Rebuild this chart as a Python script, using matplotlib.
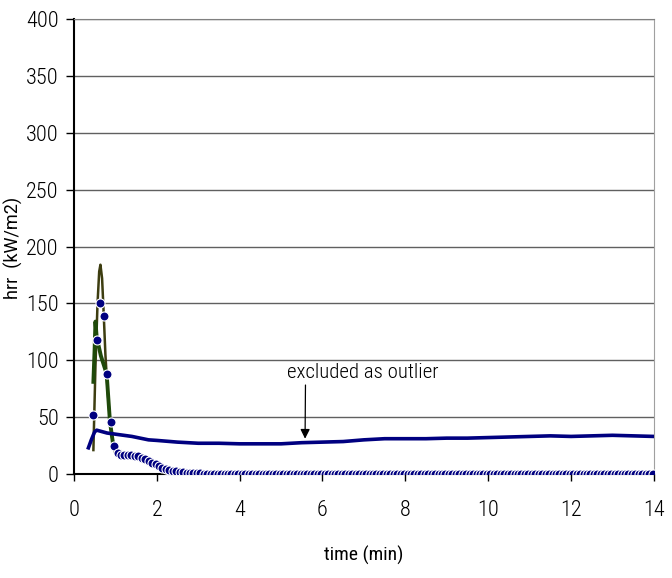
import numpy as np
import matplotlib
matplotlib.use('Agg')
import matplotlib.pyplot as plt

plt.rcParams['font.family'] = ['Roboto Condensed', 'Open Sans Condensed',
                               'DejaVu Sans Condensed', 'Roboto']
plt.rcParams['font.weight'] = 'light'

# thick navy line (excluded outlier)
t_outlier = [0.35, 0.42, 0.50, 0.55, 0.60, 0.70, 0.80, 1.0, 1.2, 1.4, 1.6, 1.8,
             2.0, 2.5, 3.0, 3.5, 4.0, 4.5, 5.0, 5.5, 6.0, 6.5, 7.0, 7.5, 8.0,
             8.5, 9.0, 9.5, 10.0, 10.5, 11.0, 11.5, 12.0, 12.5, 13.0, 13.5, 14.0]
hrr_outlier = [23, 30, 37, 38.5, 38, 37, 36, 35, 34, 33, 31.5, 30,
               29.5, 28, 27, 27, 26.5, 26.5, 26.5, 27.5, 28, 28.5, 30, 31, 31,
               31, 31.5, 31.5, 32, 32.5, 33, 33.5, 33, 33.5, 34, 33.5, 33]

# dark green thick line
t_green = [0.47, 0.50, 0.52, 0.55, 0.60, 0.65, 0.72, 0.79, 0.87, 0.95, 1.05, 1.15]
hrr_green = [81, 110, 134, 120, 112, 104, 96, 88, 46, 25, 18, 15]

# olive thin line (tall peak)
t_olive = [0.47, 0.52, 0.57, 0.61, 0.64, 0.68, 0.72, 0.76, 0.81, 0.87, 0.95, 1.0]
hrr_olive = [21, 95, 150, 178, 184, 172, 140, 105, 75, 47, 24, 18]

# navy marker series, one scan every 5 s starting at 0.47 min
t_start = 0.47
t_step = 5 / 60
hrr_markers = [52, 118, 150, 139, 88, 46, 25, 18, 17, 17, 16.5, 16.5, 16, 15.5,
               14, 13, 11.5, 10, 8.5, 7, 5.5, 4.5, 3.5, 3, 2.5, 2, 1.5, 1.2, 1,
               0.8, 0.6, 0.5, 0.4, 0.3, 0.2,
               0, 0, 0, 0, 0, 0, 0, 0, 0, 0, 0, 0, 0, 0, 0, 0, 0, 0, 0, 0,
               0, 0, 0, 0, 0, 0, 0, 0, 0, 0, 0, 0, 0, 0, 0, 0, 0, 0, 0, 0,
               0, 0, 0, 0, 0, 0, 0, 0, 0, 0, 0, 0, 0, 0, 0, 0, 0, 0, 0, 0,
               0, 0, 0, 0, 0, 0, 0, 0, 0, 0, 0, 0, 0, 0, 0, 0, 0, 0, 0, 0,
               0, 0, 0, 0, 0, 0, 0, 0, 0, 0, 0, 0, 0, 0, 0, 0, 0, 0, 0, 0,
               0, 0, 0, 0, 0, 0, 0, 0, 0, 0, 0, 0, 0, 0, 0, 0, 0, 0, 0, 0,
               0, 0, 0, 0, 0, 0, 0, 0]
t_markers = t_start + t_step * np.arange(len(hrr_markers))

x_ticks = [0, 2, 4, 6, 8, 10, 12, 14]
y_ticks = [0, 50, 100, 150, 200, 250, 300, 350, 400]

fig = plt.figure(figsize=(6.72, 5.78), dpi=100)
ax = fig.add_axes([0.110, 0.180, 0.863, 0.787])

# gridlines
for y in y_ticks[1:]:
    ax.axhline(y, color='#606060', linewidth=1.0, zorder=0)

keep = t_markers <= 14.01
ax.plot(t_outlier, hrr_outlier, color='#000080', linewidth=2.6, zorder=3)
ax.plot(t_olive, hrr_olive, color='#3d3d10', linewidth=1.8, zorder=2)
ax.plot(t_green, hrr_green, color='#1f4a0a', linewidth=2.8, zorder=2)
ax.plot(t_markers[keep], np.array(hrr_markers)[keep],
        linestyle='none', marker='o', markersize=6.5, color='#000080',
        markeredgecolor='white', markeredgewidth=0.8, zorder=4)

ax.annotate('excluded as outlier', xy=(5.58, 31), xytext=(6.98, 89),
            ha='center', va='center', fontsize=15, color='black',
            arrowprops=dict(arrowstyle='-|>', color='black', lw=0.9,
                            shrinkA=0, shrinkB=0, mutation_scale=14,
                            relpos=(0.12, 0.0)))

ax.set_xlim(0, 14)
ax.set_ylim(0, 400)
ax.set_xticks(x_ticks)
ax.set_yticks(y_ticks)
ax.tick_params(axis='y', direction='out', length=6, width=1, pad=5, labelsize=16)
ax.tick_params(axis='x', direction='out', length=5, width=1, pad=14, labelsize=16)

ax.spines['left'].set_linewidth(1.5)
ax.spines['bottom'].set_linewidth(1.5)
ax.spines['right'].set_color('#a0a0a0')
ax.spines['top'].set_color('#808080')

ax.set_xlabel('time (min)', fontsize=14)
ax.xaxis.set_label_coords(0.5, -0.158)
ax.set_ylabel('hrr  (kW/m2)', fontsize=13, family=['Roboto'])
ax.yaxis.set_label_coords(-0.087, 0.497)

fig.savefig('out.png', dpi=100)
